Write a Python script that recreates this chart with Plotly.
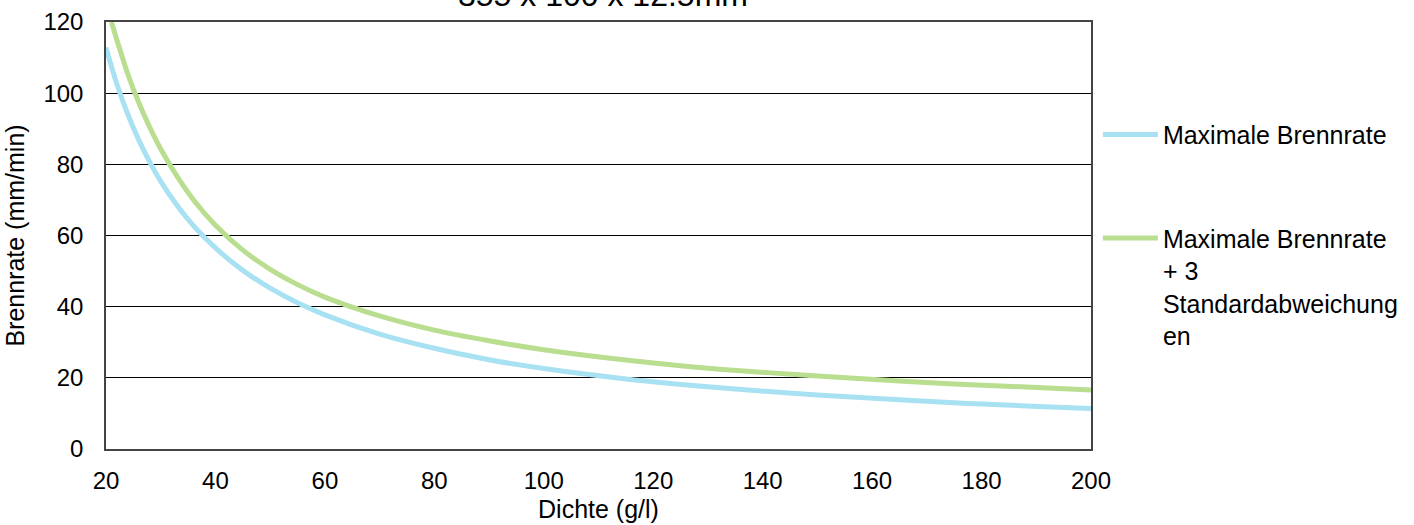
import plotly.graph_objects as go

blue_x = [20, 22, 24, 26, 28, 30, 33, 36, 40, 45, 50, 55, 60, 70, 80, 90, 100, 115, 130, 150, 175, 200]
blue_y = [112.8, 102.5, 94, 86.8, 80.6, 75.2, 68.4, 62.7, 56.5, 50.2, 45.2, 41.1, 37.7, 32.3, 28.3, 25.1,
          22.6, 19.7, 17.5, 15.2, 13.0, 11.4]

green_x = [21, 22, 24, 26, 28, 30, 33, 36, 40, 45, 50, 55, 60, 70, 80, 90, 100, 115, 130, 150, 175, 200]
green_y = [120, 114.9, 105.3, 97.3, 90.4, 84.3, 76.6, 70.0, 62.9, 55.9, 50.5, 46.2, 42.7, 37.4, 33.4, 30.4,
           27.9, 25.0, 22.7, 20.5, 18.3, 16.6]

name_blue = "Maximale Brennrate"
name_green = "Maximale Brennrate<br>+ 3<br>Standardabweichung<br>en"
title_text = "355 x 100 x 12.5mm"
x_ticks = [20, 40, 60, 80, 100, 120, 140, 160, 180, 200]
y_ticks = [0, 20, 40, 60, 80, 100, 120]

FONT = "Liberation Sans, Arial, sans-serif"

fig = go.Figure()
fig.add_trace(go.Scatter(x=blue_x, y=blue_y, mode="lines", name=name_blue,
                         legendgroup="a",
                         line=dict(color="#a8e1f2", width=5, shape="spline", smoothing=1.0)))
fig.add_trace(go.Scatter(x=green_x, y=green_y, mode="lines", name=name_green,
                         legendgroup="b",
                         line=dict(color="#b9de8f", width=5, shape="spline", smoothing=1.0)))

fig.add_annotation(text=title_text, xref="paper", yref="paper", x=0.505, y=1.064,
                   xanchor="center", yanchor="middle", showarrow=False,
                   font=dict(size=32, family=FONT, color="black"))

fig.update_layout(
    width=1414, height=525,
    margin=dict(l=106, r=323, t=22, b=76, autoexpand=False),
    paper_bgcolor="white", plot_bgcolor="white",
    font=dict(family=FONT, color="black", size=24),
    legend=dict(x=1.007, xanchor="left", y=0.79, yanchor="top",
                font=dict(size=25, family=FONT, color="black"),
                itemwidth=55, tracegroupgap=68, bgcolor="rgba(0,0,0,0)",
                valign="top"),
    xaxis=dict(range=[20, 200], tickvals=x_ticks, showgrid=False, zeroline=False,
               showline=True, linecolor="#444", linewidth=1.5, mirror=True,
               ticks="", ticklabelstandoff=9, automargin=False,
               tickfont=dict(size=24),
               title=dict(text="Dichte (g/l)", font=dict(size=25), standoff=8)),
    yaxis=dict(range=[0, 120], tickvals=y_ticks, showgrid=True, gridcolor="black",
               gridwidth=1, zeroline=False,
               showline=True, linecolor="#444", linewidth=1.5, mirror=True,
               ticks="", ticklabelstandoff=16, automargin=False,
               tickfont=dict(size=24),
               title=dict(text="Brennrate (mm/min)", font=dict(size=25), standoff=12)),
)

fig.write_html("out.html", config={"displayModeBar": False},
               post_script="document.body.style.margin='0';")
